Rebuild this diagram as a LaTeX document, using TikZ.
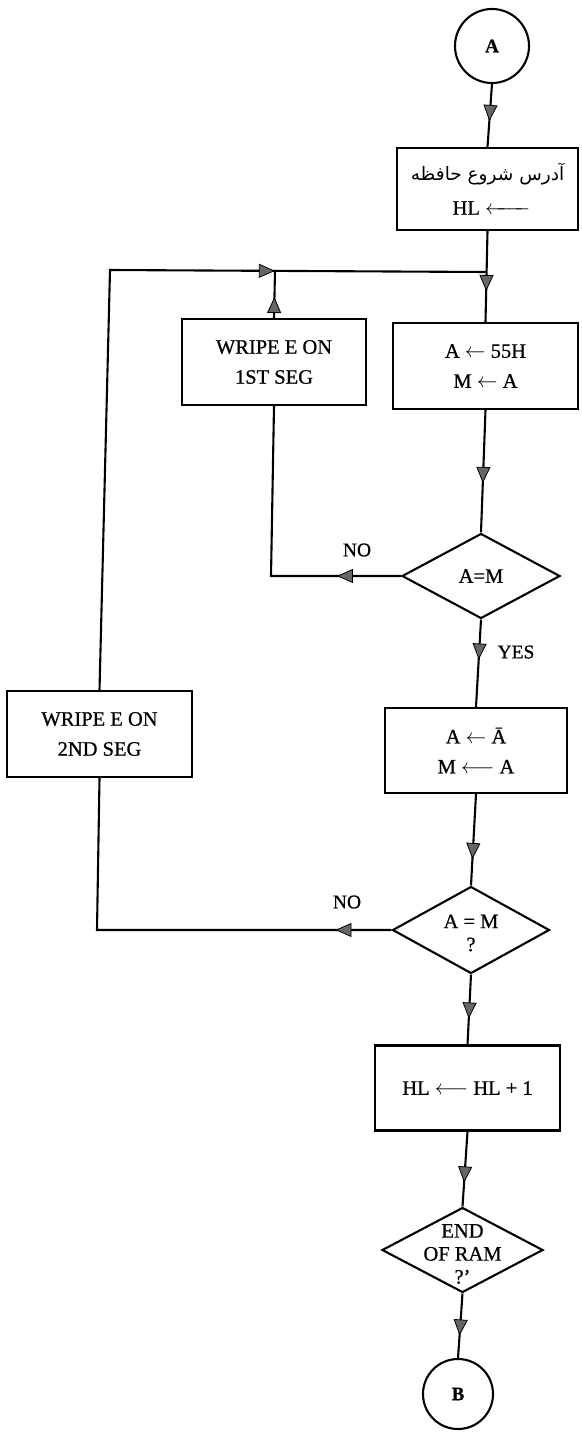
\documentclass[tikz,border=0pt]{standalone}
\usepackage{amsmath}
\usepackage{fontspec}
\setmainfont{Liberation Serif}[FakeBold=0.7]
\newfontfamily\arabicfont[Script=Arabic]{DejaVu Sans}
\TeXXeTstate=1
\usetikzlibrary{shapes.geometric,arrows.meta,decorations.markings}
\tikzset{Tri/.tip={Triangle[width=14pt,length=16pt,fill=black!60,line width=0.8pt]}}
\begin{document}
\begin{tikzpicture}[x=1pt,y=-1pt,
  box/.style={draw, line width=2.1pt, rectangle, inner sep=0pt, align=center,
    font=\fontsize{20.5}{30}\selectfont},
  dia/.style={draw, line width=2.1pt, diamond, inner sep=0pt},
  dtxt/.style={inner sep=0pt, align=center, font=\fontsize{20.5}{23}\selectfont},
  circ/.style={draw, line width=2.1pt, circle, inner sep=0pt, font=\fontsize{19}{20}\selectfont\bfseries},
  lbl/.style={inner sep=0pt, font=\fontsize{19.5}{20}\selectfont},
  conn/.style={draw, line width=2.1pt},
  arr/.style={postaction={decorate}, decoration={markings, mark=at position #1 with {\arrow{Tri}}}}
]
\useasboundingbox (0,0) rectangle (581,1432);
\fill[white] (0,0) rectangle (581,1432);

% nodes
\node[circ, minimum size=74pt] (cA) at (492,46) {A};
\node[box, minimum width=181pt, minimum height=82pt, font=\fontsize{20.5}{34}\selectfont] (b1) at (487.5,189)
  {{\arabicfont\fontsize{18.5}{20}\selectfont\beginR آدرس شروع حافظه\endR}\\\hspace*{8pt}HL $\xleftarrow{\hspace{34pt}}$};
\node[box, minimum width=185pt, minimum height=86pt] (b2) at (485.5,366) {A $\leftarrow$ 55H\\M $\leftarrow$ A};
\node[box, minimum width=184pt, minimum height=86pt] (w1) at (274,362) {WRIPE E ON\\1ST SEG};
\node[dia, minimum width=158pt, minimum height=85pt] (d1) at (481,576) {};
\node[dtxt] (d1t) at (481,576) {A=M};
\node[box, minimum width=182pt, minimum height=85pt] (b3) at (476,750.5) {A $\leftarrow$ Ā\\M $\longleftarrow$ A};
\node[box, minimum width=185pt, minimum height=86pt] (w2) at (99.5,734) {WRIPE E ON\\2ND SEG};
\node[dia, minimum width=157pt, minimum height=87pt] (d2) at (471,930) {};
\node[dtxt] (d2t) at (471,933) {A = M\\?};
\node[box, minimum width=185pt, minimum height=85pt] (b4) at (467.5,1088) {HL $\longleftarrow$ HL + 1};
\node[dia, minimum width=161pt, minimum height=85pt] (d3) at (462.5,1250) {};
\node[dtxt] (d3t) at (462.5,1254) {END\\OF RAM\\?'};
\node[circ, minimum size=70pt] (cB) at (458,1394) {B};

\node[lbl] (no1) at (357,550) {NO};
\node[lbl] (no2) at (347,902) {NO};
\node[lbl] (yes) at (516,652) {YES};

% junction coordinates
\coordinate (tl) at (110,270);
\coordinate (j1) at (275,271);
\coordinate (jR) at (486.6,272);
\coordinate (n1) at (271,576);
\coordinate (n2) at (97,930);

% connectors
\draw[conn, arr=37pt] (cA.south) -- (b1.north);
\draw[conn, arr=60pt] (b1.south) -- (b2.north);
\draw[conn, arr=21pt] (w1.north) -- (j1);
\draw[conn, arr=585pt] (w2.north) -- (tl) -- (jR);
\draw[conn, arr=73pt] (b2.south) -- (d1.north);
\draw[conn, arr=64pt] (d1.west) -- (n1) -- (w1.south);
\draw[conn, arr=40pt] (d1.south) -- (b3.north);
\draw[conn, arr=65pt] (b3.south) -- (d2.north);
\draw[conn, arr=56pt] (d2.west) -- (n2) -- (w2.south);
\draw[conn, arr=44pt] (d2.south) -- (b4.north);
\draw[conn, arr=51pt] (b4.south) -- (d3.north);
\draw[conn, arr=42pt] (d3.south) -- (cB.north);
\end{tikzpicture}
\end{document}
